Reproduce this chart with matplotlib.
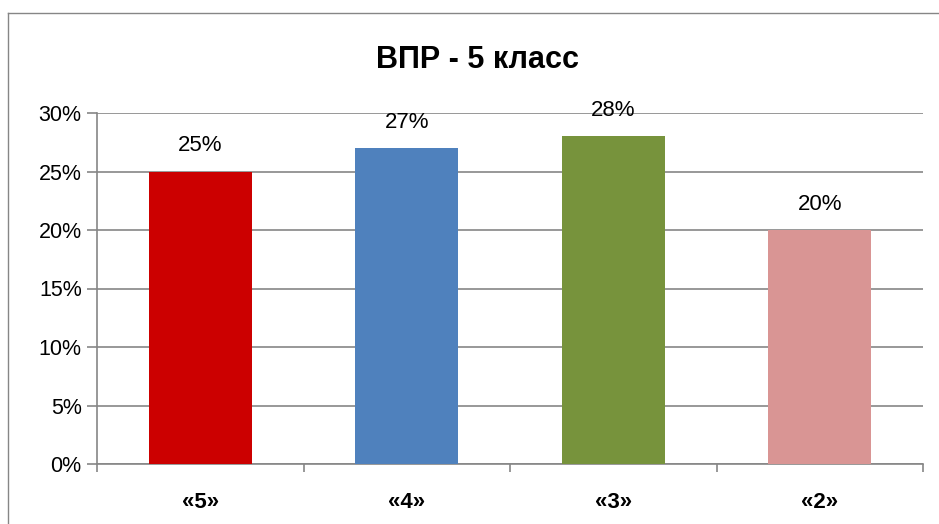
import matplotlib.pyplot as plt
from matplotlib.lines import Line2D
from matplotlib.ticker import FuncFormatter

# data
categories = ['«5»', '«4»', '«3»', '«2»']
shares = [25, 27, 28, 20]
colors = ['#CC0000', '#4F81BD', '#77933C', '#D99594']
title = 'ВПР - 5 класс'

plt.rcParams['font.family'] = ['Liberation Sans', 'DejaVu Sans']

fig = plt.figure(figsize=(9.39, 5.24), dpi=100)
ax = fig.add_axes([97 / 939, 1 - 464 / 524, 826 / 939, 351 / 524])

x = range(len(categories))
bars = ax.bar(x, shares, width=0.5, color=colors, zorder=3)
for b, v in zip(bars, shares):
    ax.text(b.get_x() + b.get_width() / 2, v + 1.3, f'{v}%',
            ha='center', va='bottom', fontsize=16, zorder=4)

ax.set_xlim(-0.5, len(categories) - 0.5)
ax.set_ylim(0, 30)
ax.set_yticks(range(0, 31, 5))
ax.yaxis.set_major_formatter(FuncFormatter(lambda v, _: f'{v:.0f}%'))
ax.set_xticks(list(x))
ax.set_xticklabels(categories, fontsize=16, fontweight='bold')
ax.set_xticks([i - 0.5 for i in range(len(categories) + 1)], minor=True)
ax.tick_params(axis='x', which='major', length=0, pad=20)
ax.tick_params(axis='x', which='minor', length=6, color='#868686', width=1.2)
ax.tick_params(axis='y', labelsize=15.5, length=7, color='#868686', width=1.2, pad=4)
ax.grid(True, axis='y', color='#868686', linewidth=1.2, zorder=1)
for s in ['top', 'right']:
    ax.spines[s].set_visible(False)
for s in ['left', 'bottom']:
    ax.spines[s].set_color('#868686')
    ax.spines[s].set_linewidth(1.2)

fig.text(478 / 939, 1 - 60 / 524, title, ha='center', va='center',
         fontsize=22, fontweight='bold')

# chart frame (only left and top edges are visible)
fig.add_artist(Line2D([8 / 939, 8 / 939], [0, 1 - 13 / 524],
                      transform=fig.transFigure, color='#868686', linewidth=1))
fig.add_artist(Line2D([8 / 939, 1], [1 - 13 / 524, 1 - 13 / 524],
                      transform=fig.transFigure, color='#868686', linewidth=1))

fig.savefig('out.png', dpi=100)
